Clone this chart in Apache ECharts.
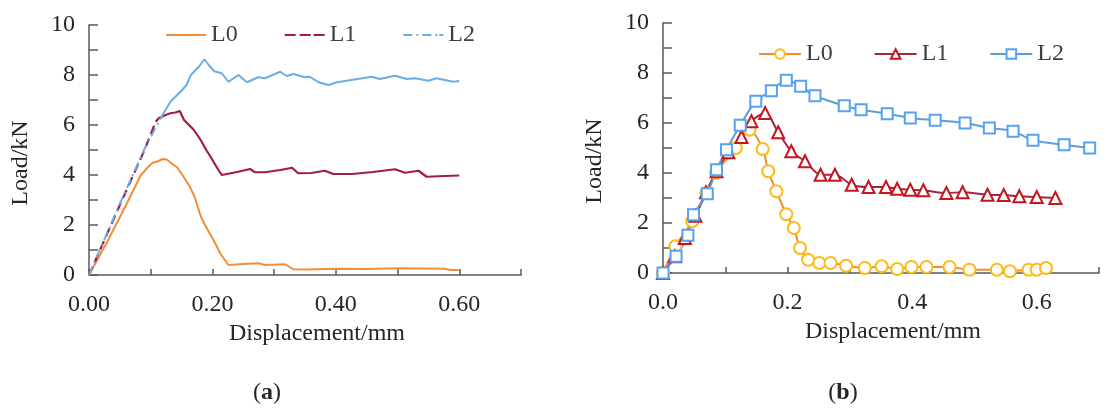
<!DOCTYPE html>
<html>
<head>
<meta charset="utf-8">
<script src="https://cdn.jsdelivr.net/npm/echarts@6/dist/echarts.min.js"></script>
<style>
  html, body { margin: 0; padding: 0; background: #fff; }
  #chartA, #chartB { position: absolute; top: 0; width: 556px; height: 411px; }
  #chartA { left: 0; }
  #chartB { left: 556px; }
</style>
</head>
<body>
<div id="chartA"></div>
<div id="chartB"></div>
<script>
// ---- (a) displacement (mm) / load (kN) ----
const aL0x = [0, 0.03, 0.06, 0.084, 0.095, 0.103, 0.112, 0.119, 0.126, 0.132, 0.143, 0.154, 0.163, 0.171, 0.181, 0.188, 0.197, 0.205, 0.213, 0.226, 0.25, 0.274, 0.285, 0.318, 0.331, 0.35, 0.401, 0.45, 0.501, 0.54, 0.577, 0.585, 0.6]
const aL0y = [0, 1.35, 2.8, 4.0, 4.3, 4.49, 4.55, 4.64, 4.62, 4.5, 4.3, 3.9, 3.55, 3.13, 2.35, 2.0, 1.6, 1.25, 0.85, 0.4, 0.44, 0.47, 0.4, 0.43, 0.23, 0.22, 0.25, 0.24, 0.27, 0.26, 0.25, 0.2, 0.2]
// L1: dashed start, then solid
const aL1x1 = [0, 0.05, 0.09, 0.108]
const aL1y1 = [0, 2.8, 5.0, 6.13]
const aL1x2 = [0.108, 0.113, 0.122, 0.132, 0.14, 0.147, 0.154, 0.162, 0.17, 0.181, 0.19, 0.197, 0.206, 0.215, 0.24, 0.261, 0.269, 0.285, 0.31, 0.329, 0.339, 0.36, 0.382, 0.396, 0.426, 0.46, 0.496, 0.512, 0.534, 0.547, 0.577, 0.6]
const aL1y2 = [6.13, 6.27, 6.38, 6.47, 6.5, 6.56, 6.2, 6.0, 5.8, 5.4, 5.0, 4.73, 4.35, 4.0, 4.12, 4.24, 4.11, 4.11, 4.2, 4.29, 4.07, 4.08, 4.17, 4.04, 4.04, 4.12, 4.23, 4.09, 4.17, 3.93, 3.96, 3.98]
// L2: dash-dot start, then solid
const aL2x1 = [0, 0.05, 0.09, 0.119]
const aL2y1 = [0, 2.85, 5.05, 6.4]
const aL2x2 = [0.119, 0.132, 0.151, 0.158, 0.165, 0.178, 0.187, 0.194, 0.203, 0.215, 0.226, 0.242, 0.256, 0.274, 0.285, 0.31, 0.32, 0.331, 0.35, 0.358, 0.372, 0.388, 0.402, 0.43, 0.458, 0.471, 0.496, 0.515, 0.528, 0.55, 0.563, 0.59, 0.6]
const aL2y2 = [6.4, 6.93, 7.4, 7.6, 8.0, 8.33, 8.63, 8.4, 8.15, 8.07, 7.73, 8.0, 7.71, 7.91, 7.87, 8.13, 7.96, 8.04, 7.91, 7.93, 7.71, 7.6, 7.71, 7.82, 7.93, 7.84, 7.97, 7.84, 7.87, 7.77, 7.87, 7.73, 7.76]

// ---- (b) ----
const bL0x = [0, 0.02, 0.047, 0.07, 0.085, 0.117, 0.139, 0.16, 0.169, 0.182, 0.198, 0.21, 0.22, 0.233, 0.251, 0.269, 0.294, 0.324, 0.351, 0.376, 0.399, 0.423, 0.46, 0.492, 0.536, 0.557, 0.587, 0.6, 0.615]
const bL0y = [0, 1.07, 2.07, 3.2, 4.0, 5.0, 5.73, 4.96, 4.07, 3.27, 2.35, 1.8, 1.0, 0.53, 0.4, 0.4, 0.29, 0.2, 0.27, 0.16, 0.24, 0.24, 0.24, 0.13, 0.13, 0.07, 0.13, 0.13, 0.2]
const bL1x = [0, 0.019, 0.035, 0.052, 0.069, 0.086, 0.105, 0.126, 0.142, 0.164, 0.185, 0.206, 0.228, 0.253, 0.276, 0.303, 0.33, 0.358, 0.376, 0.397, 0.418, 0.455, 0.481, 0.521, 0.547, 0.572, 0.6, 0.63]
const bL1y = [0, 0.67, 1.4, 2.29, 3.23, 4.07, 4.83, 5.44, 6.07, 6.4, 5.63, 4.87, 4.47, 3.93, 3.93, 3.53, 3.44, 3.44, 3.37, 3.33, 3.31, 3.2, 3.23, 3.13, 3.12, 3.07, 3.04, 3.0]
const bL2x = [0, 0.021, 0.04, 0.049, 0.071, 0.086, 0.102, 0.124, 0.149, 0.174, 0.198, 0.221, 0.244, 0.291, 0.318, 0.36, 0.397, 0.437, 0.485, 0.524, 0.562, 0.594, 0.644, 0.685]
const bL2y = [0, 0.67, 1.51, 2.33, 3.17, 4.13, 4.93, 5.91, 6.87, 7.29, 7.71, 7.47, 7.09, 6.69, 6.53, 6.37, 6.2, 6.11, 6.0, 5.8, 5.67, 5.31, 5.13, 5.0]

const seriesNames = ['L0', 'L1', 'L2']
const yTicks = [0, 2, 4, 6, 8, 10]

const zip = (xs, ys) => xs.map((x, i) => [x, ys[i]])
const FONT = 'Liberation Serif'
const FS = 24
const AXIS = '#595959'
const TXT = '#262626'

function axes(left, top, width, digits) {
    return {
        grid: { left: left, top: top, width: width, height: 250 },
        xAxis: {
            type: 'value', min: 0, max: 0.7, interval: 0.1,
            name: 'Displacement/mm', nameLocation: 'middle', nameGap: 46,
            nameTextStyle: { fontFamily: FONT, fontSize: FS, color: TXT, padding: [0, 0, 0, 24] },
            axisLine: { lineStyle: { color: AXIS, width: 1.5 } },
            axisTick: { inside: true, length: 6, lineStyle: { color: AXIS, width: 1.5 } },
            splitLine: { show: false },
            axisLabel: {
                margin: 18, fontFamily: FONT, fontSize: FS, color: TXT,
                formatter: v => (Math.round(v * 10) % 2 === 0 ? v.toFixed(digits) : '')
            }
        },
        yAxis: {
            type: 'value', min: 0, max: 10, interval: 1,
            name: 'Load/kN', nameLocation: 'middle', nameGap: 56,
            nameTextStyle: { fontFamily: FONT, fontSize: FS, color: TXT, padding: [0, 26, 0, 0] },
            axisLine: { lineStyle: { color: AXIS, width: 1.5 } },
            axisTick: { inside: true, length: 9, lineStyle: { color: AXIS, width: 1.5 } },
            splitLine: { show: false },
            axisLabel: {
                margin: 14, fontFamily: FONT, fontSize: FS, color: TXT,
                formatter: v => (yTicks.includes(v) ? String(v) : '')
            }
        }
    }
}

function caption(x, letter) {
    return {
        text: '({b|' + letter + '})', left: x, top: 376, textAlign: 'center',
        textStyle: {
            fontFamily: FONT, fontSize: FS, fontWeight: 'normal', color: TXT,
            rich: { b: { fontFamily: FONT, fontSize: FS, fontWeight: 'bold', color: TXT } }
        }
    }
}

// chart (a)
const cA = ['#f28e36', '#a31d3d', '#6aaee3']
// legend line icons: solid, dashed, dash-dot
const iconsA = [
    'path://M0,0h40v2h-40z',
    'path://M0,0h11v2h-11z M15,0h11v2h-11z M29,0h11v2h-11z',
    'path://M0,0h9v2h-9z M13,0h2v2h-2z M19,0h9v2h-9z M32,0h2v2h-2z M36,0h4v2h-4z'
]
let chartA = echarts.init(document.getElementById('chartA'))
let optA = axes(89, 25, 432, 2)
chartA.setOption(Object.assign(optA, {
    animation: false,
    title: caption(262, 'a'),
    legend: {
        left: 161, top: 18, itemWidth: 40, itemHeight: 2.5, itemGap: 47,
        data: seriesNames.map((n, i) => ({ name: n, icon: iconsA[i] })),
        textStyle: { fontFamily: FONT, fontSize: FS, color: '#404040' }
    },
    series: [
        { name: 'L0', type: 'line', symbol: 'none', data: zip(aL0x, aL0y), lineStyle: { color: cA[0], width: 2 }, itemStyle: { color: cA[0] } },
        { name: 'L1', type: 'line', symbol: 'none', data: zip(aL1x1, aL1y1), lineStyle: { color: cA[1], width: 2.2, type: [9, 5] }, itemStyle: { color: cA[1] } },
        { name: 'L1', type: 'line', symbol: 'none', data: zip(aL1x2, aL1y2), lineStyle: { color: cA[1], width: 2.2 }, itemStyle: { color: cA[1] } },
        { name: 'L2', type: 'line', symbol: 'none', data: zip(aL2x1, aL2y1), lineStyle: { color: cA[2], width: 2, type: [9, 4, 2, 4] }, itemStyle: { color: cA[2] } },
        { name: 'L2', type: 'line', symbol: 'none', data: zip(aL2x2, aL2y2), lineStyle: { color: cA[2], width: 2 }, itemStyle: { color: cA[2] } }
    ]
}))

// chart (b)
const lineB = ['#f08c34', '#a52443', '#5a9fdc']
const markB = ['#fdbb16', '#c4161c', '#56a2f2']
let chartB = echarts.init(document.getElementById('chartB'))
let optB = axes(107, 23, 436, 1)
chartB.setOption(Object.assign(optB, {
    animation: false,
    title: caption(282, 'b'),
    legend: {
        left: 197, top: 37, itemWidth: 42, itemHeight: 12, itemGap: 41,
        data: seriesNames,
        textStyle: { fontFamily: FONT, fontSize: FS, color: '#404040' }
    },
    series: [
        {
            name: 'L0', type: 'line', smooth: 0.3, symbol: 'emptyCircle', symbolSize: 12,
            data: zip(bL0x, bL0y),
            lineStyle: { color: lineB[0], width: 2 },
            itemStyle: { color: markB[0], borderWidth: 1.8 }
        },
        {
            name: 'L1', type: 'line', smooth: 0.3, symbol: 'emptyTriangle', symbolSize: 12,
            data: zip(bL1x, bL1y),
            lineStyle: { color: lineB[1], width: 2 },
            itemStyle: { color: markB[1], borderWidth: 1.8 }
        },
        {
            name: 'L2', type: 'line', smooth: 0.3, symbol: 'emptyRect', symbolSize: 11,
            data: zip(bL2x, bL2y),
            lineStyle: { color: lineB[2], width: 2 },
            itemStyle: { color: markB[2], borderWidth: 1.8 }
        }
    ]
}))
</script>
</body>
</html>
